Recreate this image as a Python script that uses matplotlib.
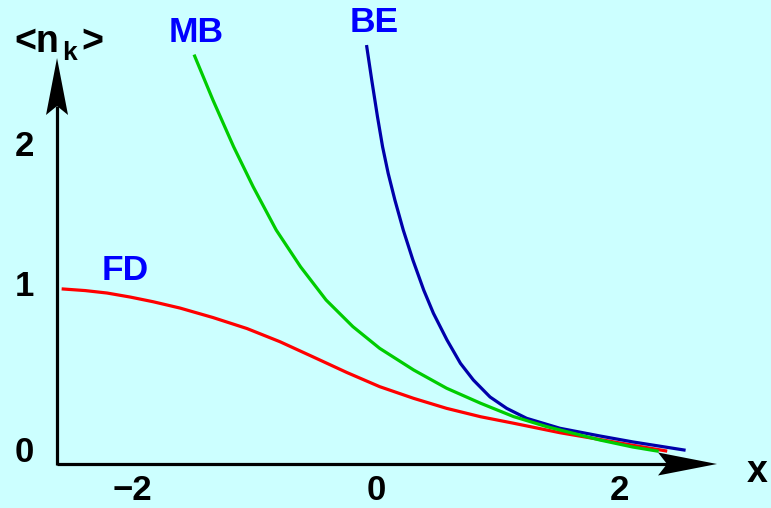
import matplotlib.pyplot as plt
from matplotlib.patches import Polygon

# occupation number <n_k> against x for the three statistics
fd_x = [-2.57, -2.39, -2.21, -2.02, -1.83, -1.61, -1.34, -1.06, -0.79, -0.52,
        -0.24, 0.03, 0.31, 0.58, 0.86, 1.13, 1.51, 1.84, 2.11, 2.38]
fd_y = [1.000, 0.991, 0.977, 0.954, 0.927, 0.891, 0.837, 0.774, 0.699, 0.613,
        0.523, 0.442, 0.375, 0.318, 0.270, 0.233, 0.179, 0.140, 0.107, 0.075]

mb_x = [-1.49, -1.34, -1.17, -1.01, -0.82, -0.62, -0.41, -0.19, 0.03, 0.31,
        0.58, 0.86, 1.13, 1.40, 1.84, 2.11, 2.31]
mb_y = [2.331, 2.080, 1.813, 1.585, 1.337, 1.127, 0.937, 0.785, 0.661, 0.537,
        0.433, 0.347, 0.271, 0.214, 0.137, 0.097, 0.074]

be_x = [-0.076, -0.035, 0.012, 0.054, 0.100, 0.155, 0.224, 0.303, 0.392, 0.472,
        0.583, 0.694, 0.800, 0.937, 1.074, 1.238, 1.512, 1.841, 2.112, 2.531]
be_y = [2.385, 2.194, 1.985, 1.813, 1.661, 1.509, 1.337, 1.166, 0.994, 0.861,
        0.709, 0.575, 0.480, 0.383, 0.318, 0.261, 0.204, 0.160, 0.126, 0.080]

x_ticks = [-2, 0, 2]
x_tick_labels = ['\u22122', '0', '2']
y_tick_labels = ['0', '1', '2']

# figure is 771 x 508 px; pixels per data unit
W, H = 771, 508
px_x, px_y = 121.7, 175.0
x0_px, y0_px = 376, 464

bg = '#CCFFFF'
fig = plt.figure(figsize=(W / 100, H / 100), dpi=100, facecolor=bg)
ax = fig.add_axes([0, 0, 1, 1])
ax.set_facecolor(bg)
ax.set_xlim(-x0_px / px_x, (W - x0_px) / px_x)
ax.set_ylim((y0_px - H) / px_y, y0_px / px_y)
ax.axis('off')

font = 'Liberation Sans'

# axes with notched arrow heads
x_left, x_tip = -2.621, 2.802
y_tip = 2.32
hl_x, hw_x = 59 / px_x, 11.5 / px_y
hl_y, hw_y = 57 / px_y, 11 / px_x
notch = 9

ax.plot([x_left, x_tip - hl_x + notch / px_x], [0, 0], color='black', lw=2.3,
        solid_capstyle='butt', zorder=5)
ax.plot([x_left, x_left], [-1 / px_y, y_tip - hl_y + notch / px_y], color='black',
        lw=2.3, solid_capstyle='butt', zorder=5)
ax.add_patch(Polygon([(x_tip, 0), (x_tip - hl_x, hw_x),
                      (x_tip - hl_x + notch / px_x, 0), (x_tip - hl_x, -hw_x)],
                     closed=True, color='black', lw=0, zorder=6))
ax.add_patch(Polygon([(x_left, y_tip), (x_left - hw_y, y_tip - hl_y),
                      (x_left, y_tip - hl_y + notch / px_y), (x_left + hw_y, y_tip - hl_y)],
                     closed=True, color='black', lw=0, zorder=6))

# curves
ax.plot(fd_x, fd_y, color='#FF0000', lw=2.3, zorder=3, solid_joinstyle='round')
ax.plot(be_x, be_y, color='#0000AA', lw=2.3, zorder=3, solid_joinstyle='round')
ax.plot(mb_x, mb_y, color='#00CC00', lw=2.3, zorder=4, solid_joinstyle='round')


def ftext(px, py, s, **kw):
    fig.text(px / W, 1 - py / H, s, family=font, weight='bold', **kw)


# curve names
ftext(196, 33, 'MB', color='#0000FF', fontsize=25.5, ha='center', va='center')
ftext(374, 23, 'BE', color='#0000FF', fontsize=25.5, ha='center', va='center')
ftext(125, 271, 'FD', color='#0000FF', fontsize=25.5, ha='center', va='center')

# tick labels
for xt, lab in zip(x_ticks, x_tick_labels):
    fig.text((x0_px + xt * px_x) / W, 1 - 491 / H, lab, family=font,
             weight='bold', fontsize=25, ha='center', va='center')
for py, lab in zip([452, 286, 147], y_tick_labels):
    ftext(24, py, lab, fontsize=25, ha='center', va='center')

# axis titles
ftext(757, 472, 'x', fontsize=27, ha='center', va='center')
ftext(14, 52, '<n', fontsize=27, ha='left', va='baseline')
ftext(62, 60, 'k', fontsize=19, ha='left', va='baseline')
ftext(81, 52, '>', fontsize=27, ha='left', va='baseline')

fig.savefig('out.png', dpi=100, facecolor=bg)
